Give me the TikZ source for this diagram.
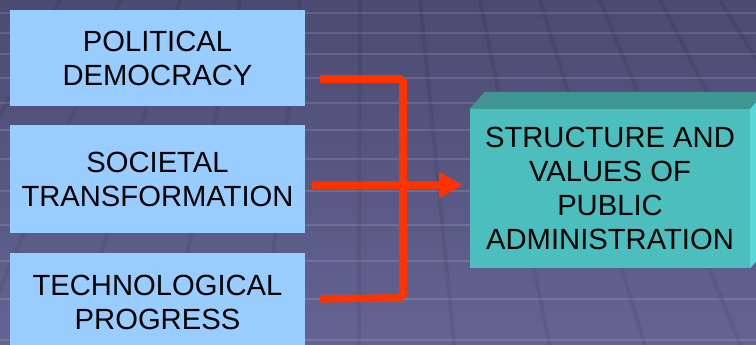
\documentclass[tikz,border=0pt]{standalone}
\usepackage{fontspec}
\setmainfont{Liberation Sans}
\usetikzlibrary{positioning, arrows.meta}
\definecolor{boxblue}{HTML}{99CCFF}
\definecolor{tealfront}{HTML}{4DBEBE}
\definecolor{tealtop}{HTML}{3F9494}
\definecolor{tealside}{HTML}{5AD8D8}
\definecolor{arrowred}{HTML}{FF3300}
\definecolor{bgtop}{HTML}{4A4A72}
\definecolor{bgbottom}{HTML}{646493}
\tikzstyle{factor} = [rectangle, minimum width=295pt, inner sep=0pt, align=center, fill=boxblue, font=\fontsize{29.2}{34}\selectfont]
\tikzstyle{result} = [rectangle, minimum width=280pt, minimum height=159pt, inner sep=0pt, align=center, fill=tealfront, font=\fontsize{29.2}{34}\selectfont]
\tikzstyle{link} = [line width=7.5pt, draw=arrowred]
\tikzstyle{arrow} = [link, -{Triangle[length=24pt,width=25pt]}]
\tikzstyle{gridrow} = [line width=2pt, draw=white, opacity=0.12]
\tikzstyle{gridcol} = [line width=4pt, draw=black, opacity=0.07]

\begin{document}
\begin{tikzpicture}[x=1pt, y=1pt]
\useasboundingbox (0,0) rectangle (756,345);
\clip (0,0) rectangle (756,345);

% background with the perspective grid
\shade[top color=bgtop, bottom color=bgbottom] (0,0) rectangle (756,345);
\foreach \r in {13,33,54,78,103,130,159,191,225,261,299,340}
  \draw[gridrow] (0,345-\r) -- (756,345-\r);
\foreach \c in {0,60,...,780}
  \draw[gridcol] (\c,345) -- ({362+(\c-362)*1.59},0);

\node (pd) [factor, minimum height=96pt] at (157.5,287) {POLITICAL\\DEMOCRACY};
\node (st) [factor, minimum height=108pt, below=19pt of pd] {SOCIETAL\\TRANSFORMATION};
\node (tp) [factor, minimum height=99pt, below=19pt of st] {TECHNOLOGICAL\\PROGRESS};

\node (pa) [result] at (610,156.5) {STRUCTURE AND\\VALUES OF\\PUBLIC\\ADMINISTRATION};
\fill[tealtop] (pa.north west) -- ++(15,17) -- ++(280,0) -- (pa.north east) -- cycle;
\fill[tealside] (pa.north east) -- ++(15,17) -- ++(0,-159) -- (pa.south east) -- cycle;

\coordinate (bustop) at (403,266);
\coordinate (busbot) at (403,47);

\draw [link] ([xshift=15pt,yshift=-21pt]pd.east) -- (bustop);
\draw [link] (bustop) -- (busbot);
\draw [link] ([xshift=15pt,yshift=3.5pt]tp.east) -- (busbot);
\draw [arrow] ([xshift=7pt,yshift=-6pt]st.east) -- ([xshift=-7pt,yshift=3.5pt]pa.west);

\end{tikzpicture}
\end{document}
